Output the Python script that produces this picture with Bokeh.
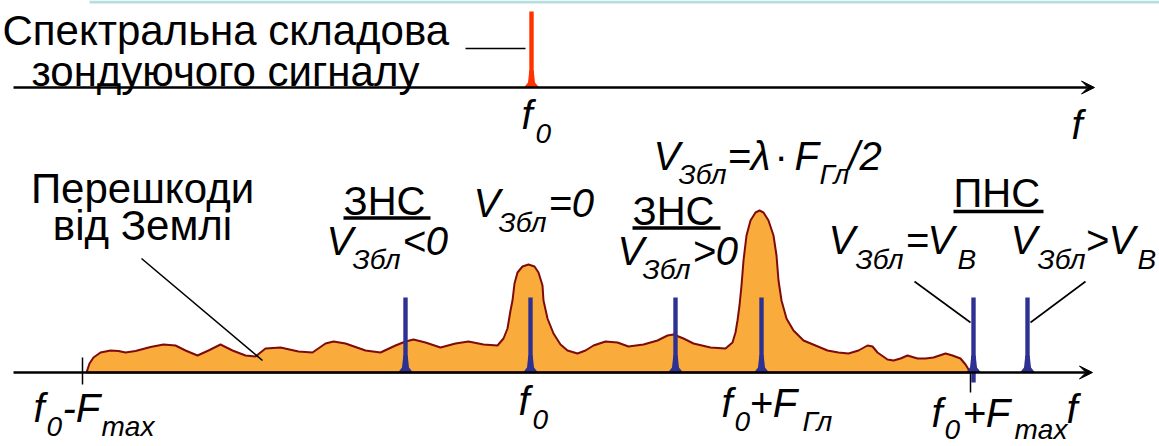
from bokeh.plotting import figure
from bokeh.models import Range1d, Arrow, VeeHead
from bokeh.embed import file_html
from bokeh.resources import INLINE
from bokeh.core.properties import value

W, H = 1159, 446

# ---- data (frequency positions in drawing units, amplitudes above axis) ----
TOP_AXIS = 87      # row of upper frequency axis
BOT_AXIS = 372     # row of lower frequency axis

signal_f = [531]
signal_amp = [76]

noise_f = [86, 89, 93, 100, 110, 118, 125, 135, 150, 163, 175, 185, 197, 208, 220, 232,
           245, 255, 265, 280, 298, 312, 325, 333, 345, 365, 380, 395, 405, 413, 425, 440,
           455, 468, 483, 497, 503, 507, 510, 512, 514, 517, 522, 528, 534, 538, 542, 543,
           547, 553, 560, 567, 577, 585, 593, 605, 617, 628, 643, 657, 667, 673, 683, 693,
           710, 725, 732, 735, 737, 739, 741, 743, 746, 750, 755, 759, 763, 768, 773, 776,
           778, 781, 786, 793, 803, 815, 827, 838, 848, 858, 867, 872, 877, 887, 893, 900,
           907, 917, 925, 933, 945, 952, 960, 965, 970]
noise_amp = [0, 9, 15, 20, 22, 21.5, 20, 21.5, 25.5, 28, 27, 22, 17, 22, 28, 22,
             17, 16, 24, 25, 21, 20, 29, 31, 29, 22, 20, 27, 31, 33, 30, 25,
             29, 31, 28, 27, 34, 44, 62, 72, 89, 100, 106, 108, 106, 100, 87, 72,
             54, 39, 28, 22, 19, 22, 27, 31, 30, 26, 28, 32, 37, 38, 34, 29,
             25, 24, 30, 40, 52, 67, 87, 112, 137, 152, 160, 162, 160, 152, 137, 117,
             92, 72, 54, 42, 32, 27, 22, 20, 19, 22, 27, 26, 20, 13, 12, 14,
             17, 14, 14, 15, 19, 17, 14, 8, 0]

target_f = [405, 530, 675, 761, 973, 1027]
target_amp = [75, 75, 75, 75, 75, 75]
target_below = [0, 0, 0, 0, 10, 0]

# ---- texts ----
big_texts = ["Спектральна складова", "зондуючого сигналу"]
big_x = [2, 31]
big_y = [43, 84]

plain_texts = ["ЗНС", "ЗНС", "ПНС", "·"]
plain_x = [343, 632, 953, 774]
plain_y = [213, 223, 205, 168]

center_texts = ["Перешкоди", "від Землі"]
center_x = [142, 142]
center_y = [201, 238]

ital_texts = ["f", "f",
              "V", "<0", "V", "=0", "V", "=λ", "F", "/2", "V", ">0",
              "V", "=", "V", "V", ">", "V",
              "f", "-F", "f", "f", "+F", "f", "+F", "f"]
ital_x = [521, 1071,
          326, 402, 473, 548, 653, 727, 794, 848, 617, 692,
          828, 905, 927, 1010, 1085, 1108,
          33, 62, 518, 721, 749, 931, 962, 1066]
ital_y = [127, 137,
          253, 253, 215, 215, 168, 168, 168, 168, 263, 263,
          252, 252, 252, 252, 252, 252,
          420, 420, 413, 415, 415, 425, 425, 421]

sub_texts = ["0",
             "Збл", "Збл", "Збл", "Гл", "Збл",
             "Збл", "B", "Збл", "B",
             "0", "max", "0", "0", "Гл", "0", "max"]
sub_x = [535,
         352, 498, 678, 819, 642,
         855, 957, 1037, 1137,
         46, 101, 532, 734, 802, 944, 1014]
sub_y = [142,
         268, 231, 183, 183, 278,
         268, 268, 268, 268,
         435, 435, 428, 430, 430, 438, 438]

underline_x0 = [343, 632, 953]
underline_x1 = [430, 720, 1043]
underline_y = [217.5, 227.5, 211]

leader_x0 = [465, 141, 914, 1085]
leader_y0 = [48, 258, 281, 281]
leader_x1 = [525, 262, 970, 1030]
leader_y1 = [48, 360, 322, 322]

ORANGE = "#F9AC3C"
DARKRED = "#7F0A0A"
BLUE = "#2E3192"
RED = "#FF3300"
FONT = "Liberation Sans"
BASE_SHIFT = 0.32   # renderer places alphabetic baseline this many em lower

p = figure(width=W, height=H, x_range=Range1d(0, W), y_range=Range1d(H, 0),
           output_backend="svg", toolbar_location=None,
           x_axis_location=None, y_axis_location=None, min_border=0,
           outline_line_color=None, background_fill_color="white",
           border_fill_color="white")
p.grid.visible = False

# top teal band
p.quad(left=[89], right=[W], top=[0], bottom=[3], fill_color="#B8DFE0", line_color=None)

# axes
p.add_layout(Arrow(end=VeeHead(size=13, fill_color="black", line_color="black", line_width=1),
                   x_start=13, y_start=TOP_AXIS, x_end=1094, y_end=TOP_AXIS,
                   line_width=2.5, line_color="black"))
p.add_layout(Arrow(end=VeeHead(size=13, fill_color="black", line_color="black", line_width=1),
                   x_start=13, y_start=BOT_AXIS, x_end=1092, y_end=BOT_AXIS,
                   line_width=2.5, line_color="black"))
# ticks
p.segment(x0=[82, 970], y0=[357, BOT_AXIS], x1=[82, 970], y1=[384, 392],
          line_color="black", line_width=1.5)

# noise spectrum
ny = [BOT_AXIS - a for a in noise_amp]
p.patch(x=noise_f, y=ny, fill_color=ORANGE, line_color=DARKRED, line_width=2)


def spikes(fs, amps, below, axis, color):
    xs, ys = [], []
    for f in fs:
        xs.append([f - 7.5, f - 3.5, f - 2.2, f + 2.2, f + 3.5, f + 7.5])
        ys.append([axis, axis - 5, axis - 17, axis - 17, axis - 5, axis])
    p.patches(xs=xs, ys=ys, fill_color=color, line_color=None)
    p.quad(left=[f - 2.2 for f in fs], right=[f + 2.2 for f in fs],
           top=[axis - a for a in amps], bottom=[axis + b for b in below],
           fill_color=color, line_color=None)


spikes(target_f, target_amp, target_below, BOT_AXIS, BLUE)
spikes(signal_f, signal_amp, [0], TOP_AXIS, RED)

# leaders and underlines
p.segment(x0=leader_x0, y0=leader_y0, x1=leader_x1, y1=leader_y1,
          line_color="black", line_width=1.6)
p.segment(x0=underline_x0, y0=underline_y, x1=underline_x1, y1=underline_y,
          line_color="black", line_width=3.5)


def texts(xs, ys, tx, size, style="normal", align="left"):
    p.text(x=xs, y=[y - BASE_SHIFT * size for y in ys], text=tx, text_font=value(FONT),
           text_font_size=value(f"{size}px"), text_font_style=style,
           text_baseline="alphabetic", text_align=align, text_color="black")


texts(big_x, big_y, big_texts, 42)
texts(plain_x, plain_y, plain_texts, 40)
texts(center_x, center_y, center_texts, 42, align="center")
texts(ital_x, ital_y, ital_texts, 40, style="italic")
texts(sub_x, sub_y, sub_texts, 28, style="italic")

open("out.html", "w").write(file_html(p, INLINE))
